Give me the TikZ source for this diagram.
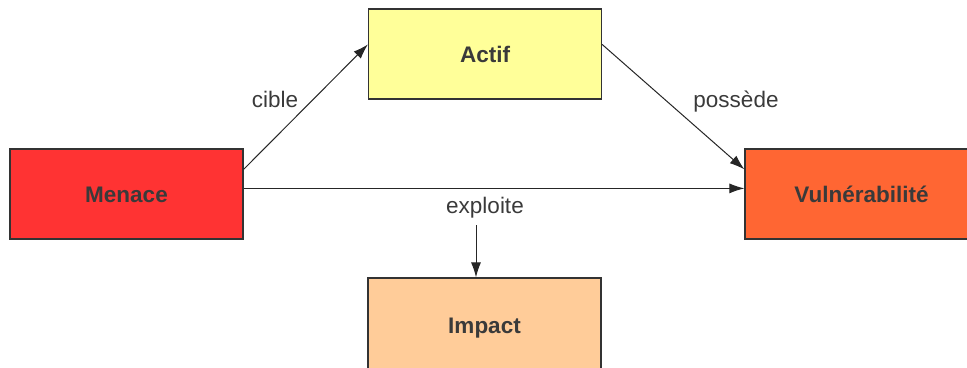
\documentclass[tikz,border=0pt]{standalone}
\usepackage{fontspec}
\setmainfont{Liberation Sans}
\usetikzlibrary{arrows.meta,calc}
\definecolor{txt}{HTML}{3A3A3A}
\definecolor{edge}{HTML}{333333}
\definecolor{cActif}{HTML}{FFFF99}
\definecolor{cMenace}{HTML}{FF3333}
\definecolor{cVuln}{HTML}{FF6633}
\definecolor{cImpact}{HTML}{FFCC99}
\begin{document}
\begin{tikzpicture}[x=1pt,y=-1pt,
  box/.style={draw=edge,line width=1.2pt,minimum width=233pt,minimum height=90pt,inner sep=0pt,
    font=\fontsize{22.5}{26}\selectfont\bfseries,text=txt,text height=16pt,text depth=0pt},
  lbl/.style={font=\fontsize{22.5}{26}\selectfont,text=txt,inner sep=0pt,anchor=base},
  conn/.style={draw=black!85,line width=1pt,-{Latex[length=15pt,width=10pt]}}]
\useasboundingbox (0,0) rectangle (967,367);
\clip (0,0) rectangle (967,367);
\node[box,fill=cActif] (actif) at (485,54) {Actif};
\node[box,fill=cMenace] (menace) at (126.5,194) {Menace};
\node[box,fill=cVuln] (vuln) at (861.5,194) {Vulnérabilité};
\node[box,fill=cImpact,minimum height=94pt] (impact) at (484.5,325) {Impact};
\node[lbl] (lcible) at (275,107) {cible};
\node[lbl] (lpossede) at (736,107) {possède};
\node[lbl] (lexploite) at (485,213) {exploite};
\coordinate (cs) at ($(menace.north east)+(0,21)$);
\coordinate (ce) at ($(actif.north west)+(0,36)$);
\coordinate (ps) at ($(actif.north east)+(0,36)$);
\coordinate (pe) at ($(vuln.north west)+(0,21)$);
\coordinate (es) at ($(menace.north east)+(0,40)$);
\coordinate (ee) at ($(vuln.north west)+(0,40)$);
\coordinate (is) at (476,225);
\draw[conn] (cs) -- (ce);
\draw[conn] (ps) -- (pe);
\draw[conn] (es) -- (ee);
\draw[conn] (is) -- (is |- impact.north);
\end{tikzpicture}
\end{document}
